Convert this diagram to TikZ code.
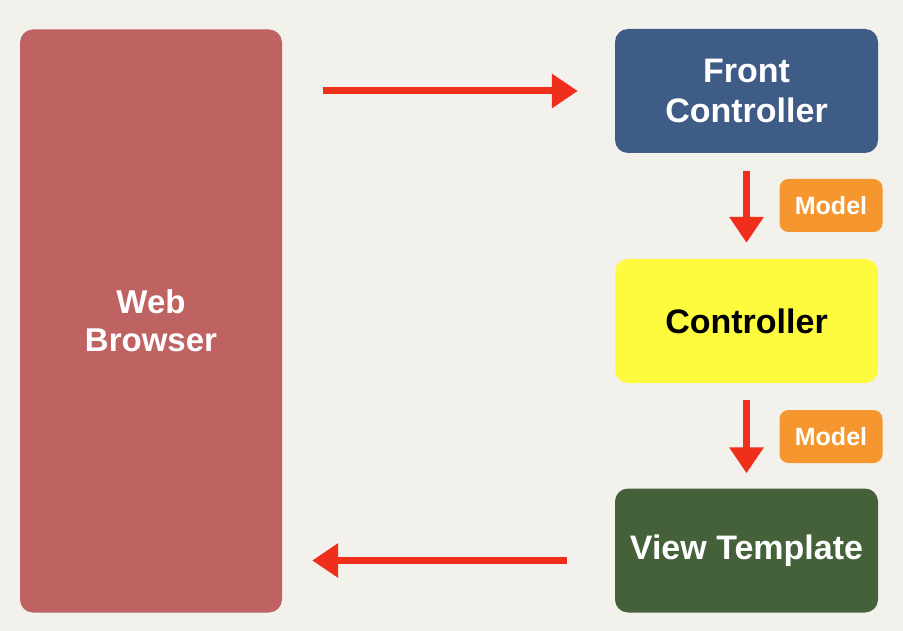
\documentclass[tikz,border=0pt]{standalone}
\usepackage{fontspec}
\setmainfont{Liberation Sans}
\usetikzlibrary{arrows.meta}

\definecolor{paper}{HTML}{F3F1EC}
\definecolor{browser}{HTML}{BF6262}
\definecolor{front}{HTML}{3F5C87}
\definecolor{ctrl}{HTML}{FEFA3E}
\definecolor{view}{HTML}{45613A}
\definecolor{model}{HTML}{F5962F}
\definecolor{flow}{HTML}{F02E1C}

\begin{document}
\begin{tikzpicture}[x=1pt,y=-1pt,
  box/.style={rectangle,rounded corners=13pt,inner sep=0pt,align=center,
    minimum width=263pt,minimum height=124pt,text=white,
    font=\fontsize{34}{40}\selectfont\bfseries},
  badge/.style={rectangle,rounded corners=9pt,fill=model,text=white,inner sep=0pt,
    minimum width=103pt,minimum height=53pt,font=\fontsize{25}{30}\selectfont\bfseries},
  flowarrow/.style={draw=flow,line width=7pt,-{Triangle[length=26pt,width=33pt]}}]

  \fill[paper] (0,0) rectangle (903,631);
  \useasboundingbox (0,0) rectangle (903,631);

  \node[box,fill=browser,minimum width=262pt,minimum height=583pt,
        font=\fontsize{33}{38}\selectfont\bfseries] (WB) at (151,321) {Web\\Browser};
  \node[box,fill=front] (FC) at (746.5,91) {Front\\Controller};
  \node[box,fill=ctrl,text=black] (C) at (746.5,321) {Controller};
  \node[box,fill=view] (VT) at (746.5,550.5) {View Template};

  \node[badge] (M1) at (831,205.5) {Model};
  \node[badge] (M2) at (831,436.5) {Model};

  \draw[flowarrow,shorten <=41pt,shorten >=37pt] (FC.west -| WB.east) -- (FC.west);
  \draw[flowarrow,shorten <=18pt,shorten >=16pt] (FC.south) -- (C.north);
  \draw[flowarrow,shorten <=17pt,shorten >=15pt] (C.south) -- (VT.north);
  \draw[flowarrow,shorten <=48pt,shorten >=30pt] ([yshift=-10pt]VT.west) -- ([yshift=-10pt]VT.west -| WB.east);

\end{tikzpicture}
\end{document}
